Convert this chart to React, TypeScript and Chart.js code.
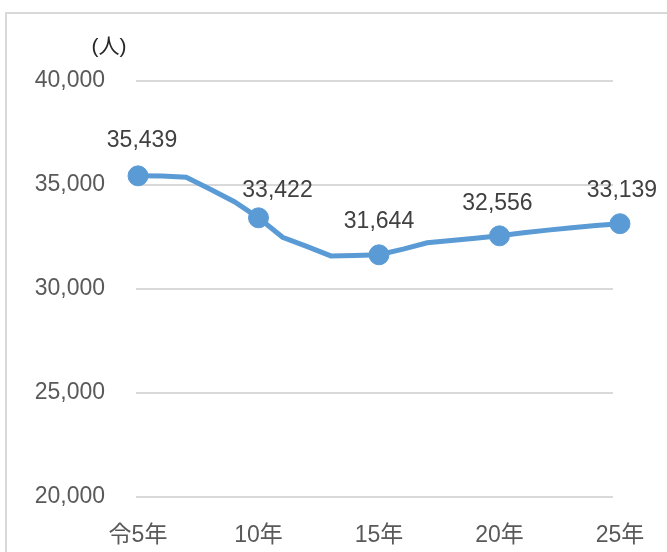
import React, { useEffect, useRef } from "react";
import { Chart, registerables } from "chart.js";

Chart.register(...registerables);

const years = [5, 6, 7, 8, 9, 10, 11, 12, 13, 14, 15, 16, 17, 18, 19, 20, 21, 22, 23, 24, 25];
const population = [
  35439, 35430, 35370, 34800, 34197, 33422, 32485, 32050, 31590, 31610, 31644,
  31920, 32225, 32335, 32445, 32556, 32700, 32830, 32950, 33050, 33139,
];
const tickYears = [5, 10, 15, 20, 25];
const tickLabels = ["令5年", "10年", "15年", "20年", "25年"];
const yTicks = [20000, 25000, 30000, 35000, 40000];
const unitLabel = "(人)";

// label nudges (style only), keyed by marker year
const labelOffsets: Record<number, [number, number]> = {
  5: [4, -35],
  10: [19, -27],
  15: [0, -33],
  20: [-2, -32],
  25: [2, -33],
};

const FONT = "'Liberation Sans', Arial, 'Noto Sans CJK JP', sans-serif";
const fmt = (v: number) => v.toLocaleString("en-US");

export default function App() {
  const ref = useRef<HTMLCanvasElement | null>(null);

  useEffect(() => {
    if (!ref.current) return;
    const labelPlugin = {
      id: "labels",
      afterDatasetsDraw(chart: any) {
        const ctx = chart.ctx;
        const meta = chart.getDatasetMeta(0);
        ctx.save();
        ctx.font = `23px ${FONT}`;
        ctx.fillStyle = "#404040";
        ctx.textAlign = "center";
        ctx.textBaseline = "middle";
        years.forEach((yr, i) => {
          if (!tickYears.includes(yr)) return;
          const pt = meta.data[i];
          const off = labelOffsets[yr] || [0, -33];
          ctx.fillText(fmt(population[i]), pt.x + off[0], pt.y + off[1]);
        });
        ctx.font = `21px ${FONT}`;
        ctx.fillStyle = "#262626";
        ctx.fillText(unitLabel, 109, 47);
        ctx.restore();
      },
    };

    const chart = new Chart(ref.current, {
      type: "line",
      data: {
        datasets: [
          {
            data: years.map((x, i) => ({ x, y: population[i] })),
            borderColor: "#5b9bd5",
            backgroundColor: "#5b9bd5",
            borderWidth: 5,
            tension: 0,
            clip: false as any,
            pointRadius: years.map((y) => (tickYears.includes(y) ? 10 : 0)),
            pointHoverRadius: 0,
            pointBorderWidth: 1,
            pointBackgroundColor: "#5b9bd5",
            pointBorderColor: "#5b9bd5",
          },
        ],
      },
      options: {
        responsive: false,
        animation: false,
        devicePixelRatio: 1,
        layout: { padding: { left: 0, top: 81, right: 54, bottom: 0 } },
        plugins: { legend: { display: false }, tooltip: { enabled: false } },
        scales: {
          x: {
            type: "linear",
            min: 4.917,
            max: 24.71,
            grid: { display: false },
            border: { display: false },
            afterBuildTicks: (scale: any) => {
              scale.ticks = tickYears.map((v) => ({ value: v }));
            },
            afterFit: (scale: any) => {
              scale.height = 55;
            },
            ticks: {
              autoSkip: false,
              maxRotation: 0,
              padding: 17,
              color: "#595959",
              font: { family: FONT, size: 23 },
              callback: (v: any) => tickLabels[tickYears.indexOf(Number(v))] ?? "",
            },
          },
          y: {
            min: 20000,
            max: 40000,
            grid: { color: "#d9d9d9", lineWidth: 2, drawTicks: false },
            border: { display: false },
            afterBuildTicks: (scale: any) => {
              scale.ticks = yTicks.map((v) => ({ value: v }));
            },
            afterFit: (scale: any) => {
              scale.width = 136;
            },
            ticks: {
              padding: 31,
              color: "#595959",
              font: { family: FONT, size: 23 },
              callback: (v: any) => fmt(Number(v)),
            },
          },
        },
      },
      plugins: [labelPlugin],
    });
    return () => chart.destroy();
  }, []);

  return (
    <div
      style={{
        position: "fixed",
        left: 0,
        top: 0,
        width: 667,
        height: 552,
        background: "#fff",
        overflow: "hidden",
      }}
    >
      <div
        style={{
          position: "absolute",
          left: 5,
          top: 12,
          width: 700,
          height: 600,
          borderTop: "2px solid #d9d9d9",
          borderLeft: "2px solid #d9d9d9",
        }}
      />
      <canvas
        ref={ref}
        width={667}
        height={552}
        style={{ position: "absolute", left: 0, top: 0, width: 667, height: 552 }}
      />
    </div>
  );
}
